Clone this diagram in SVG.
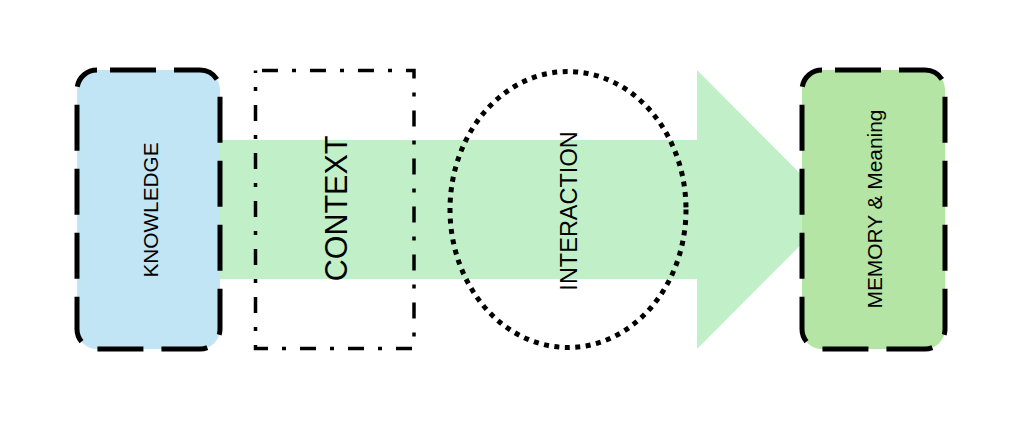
<svg xmlns="http://www.w3.org/2000/svg" width="1014" height="422" viewBox="0 0 1014 422">
<style>
.lbl{font-family:"Liberation Sans",Arial,sans-serif;fill:#000;text-anchor:middle}
.dashbox{stroke:#000;stroke-width:5;stroke-dasharray:46 18;stroke-dashoffset:51}
</style>
<rect width="1014" height="422" fill="#fff"/>
<g id="connectors">
<polygon points="150,140 697,140 697,70 836,209.5 697,349 697,279 150,279" fill="#c1f0c8"/>
</g>
<g id="knowledge">
<rect class="dashbox" x="77" y="70" width="143" height="279" rx="20" fill="#c2e5f5"/>
<text class="lbl" font-size="20.8" transform="translate(157.5,210) rotate(-90)">KNOWLEDGE</text>
</g>
<g id="context">
<rect x="255.5" y="70.5" width="158.5" height="278" fill="none" stroke="#000" stroke-width="3.5" stroke-dasharray="16 14 4 14" stroke-dashoffset="41.5"/>
<text class="lbl" font-size="30.5" transform="translate(346.5,208.5) rotate(-90)">CONTEXT</text>
</g>
<g id="interaction">
<ellipse cx="568" cy="209.5" rx="118" ry="138" fill="none" stroke="#000" stroke-width="5" stroke-dasharray="5 5.5"/>
<text class="lbl" font-size="23.5" transform="translate(576.5,211) rotate(-90)">INTERACTION</text>
</g>
<g id="memory">
<rect class="dashbox" x="802" y="70" width="143" height="279" rx="20" fill="#b5e5a4"/>
<text class="lbl" font-size="20.9" transform="translate(882,209) rotate(-90)">MEMORY &amp; Meaning</text>
</g>
</svg>
